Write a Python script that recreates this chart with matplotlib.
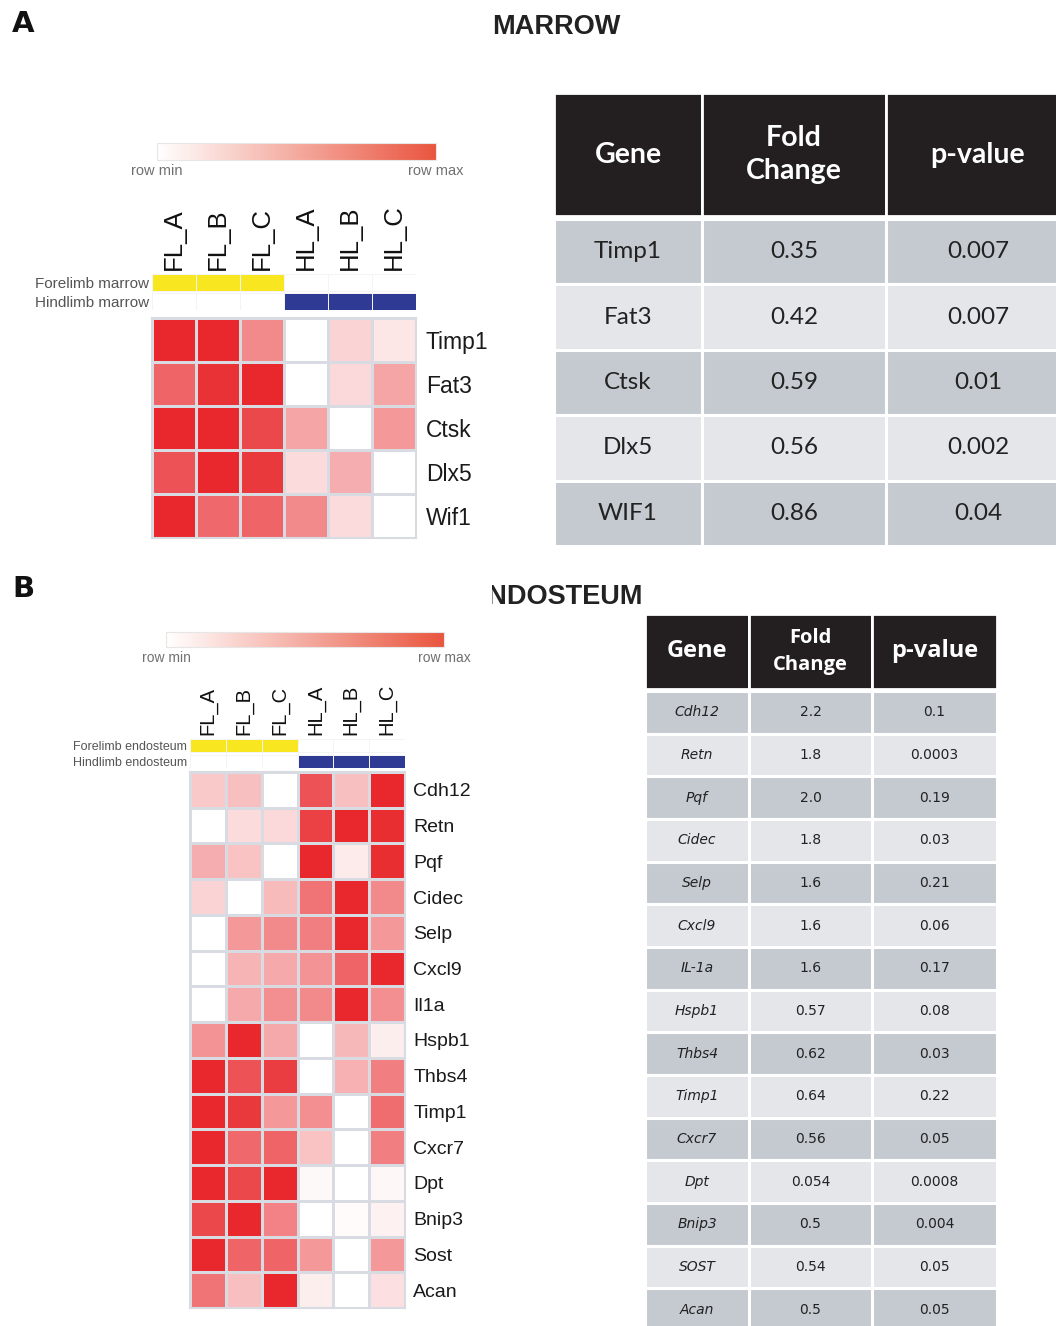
import numpy as np
import matplotlib
matplotlib.use("Agg")
import matplotlib.pyplot as plt
from matplotlib.colors import LinearSegmentedColormap, ListedColormap, Normalize
from matplotlib.cm import ScalarMappable
from matplotlib.patches import Rectangle

# ---- data ----
samples = ['FL_A', 'FL_B', 'FL_C', 'HL_A', 'HL_B', 'HL_C']
groups = ['FL', 'FL', 'FL', 'HL', 'HL', 'HL']

marrow_genes = ['Timp1', 'Fat3', 'Ctsk', 'Dlx5', 'Wif1']
marrow_vals = [
    [1.00, 1.00, 0.55, 0.00, 0.20, 0.12],
    [0.72, 0.95, 1.00, 0.00, 0.18, 0.42],
    [1.00, 1.00, 0.85, 0.42, 0.00, 0.48],
    [0.80, 1.00, 0.92, 0.17, 0.38, 0.00],
    [1.00, 0.70, 0.72, 0.55, 0.17, 0.00],
]
marrow_tab_genes = ['Timp1', 'Fat3', 'Ctsk', 'Dlx5', 'WIF1']
marrow_fold = ['0.35', '0.42', '0.59', '0.56', '0.86']
marrow_p = ['0.007', '0.007', '0.01', '0.002', '0.04']

endo_genes = ['Cdh12', 'Retn', 'Pqf', 'Cidec', 'Selp', 'Cxcl9', 'Il1a', 'Hspb1',
              'Thbs4', 'Timp1', 'Cxcr7', 'Dpt', 'Bnip3', 'Sost', 'Acan']
endo_vals = [
    [0.25, 0.30, 0.00, 0.80, 0.30, 1.00],
    [0.00, 0.17, 0.18, 0.88, 1.00, 0.97],
    [0.38, 0.28, 0.00, 1.00, 0.10, 0.97],
    [0.20, 0.00, 0.32, 0.65, 1.00, 0.55],
    [0.00, 0.48, 0.55, 0.60, 1.00, 0.48],
    [0.00, 0.35, 0.40, 0.50, 0.72, 1.00],
    [0.00, 0.40, 0.52, 0.55, 1.00, 0.52],
    [0.50, 1.00, 0.40, 0.00, 0.33, 0.08],
    [1.00, 0.80, 0.90, 0.00, 0.36, 0.60],
    [1.00, 0.92, 0.48, 0.52, 0.00, 0.68],
    [1.00, 0.70, 0.72, 0.28, 0.00, 0.60],
    [1.00, 0.85, 1.00, 0.03, 0.00, 0.04],
    [0.85, 1.00, 0.58, 0.00, 0.02, 0.07],
    [1.00, 0.72, 0.72, 0.48, 0.00, 0.48],
    [0.65, 0.30, 1.00, 0.08, 0.00, 0.15],
]
endo_tab_genes = ['Cdh12', 'Retn', 'Pqf', 'Cidec', 'Selp', 'Cxcl9', 'IL-1a', 'Hspb1',
                  'Thbs4', 'Timp1', 'Cxcr7', 'Dpt', 'Bnip3', 'SOST', 'Acan']
endo_fold = ['2.2', '1.8', '2.0', '1.8', '1.6', '1.6', '1.6', '0.57', '0.62', '0.64',
             '0.56', '0.054', '0.5', '0.54', '0.5']
endo_p = ['0.1', '0.0003', '0.19', '0.03', '0.21', '0.06', '0.17', '0.08', '0.03',
          '0.22', '0.05', '0.0008', '0.004', '0.05', '0.05']

# ---- style ----
W, H = 1056, 1326
RED = '#E8282C'
YELLOW = '#F7E620'
BLUE = '#2F3A94'
GRID = '#D8DCE2'
HEAD = '#231F20'
DARK_ROW = '#C5CAD1'
LIGHT_ROW = '#E4E6EA'
heat_cmap = LinearSegmentedColormap.from_list('wr', ['white', RED])
bar_cmap = LinearSegmentedColormap.from_list('wr2', ['white', '#E9553F'])
ann_cmap = ListedColormap(['white', YELLOW, BLUE])
HM_FONT = 'Liberation Sans'

fig = plt.figure(figsize=(W / 100, H / 100), dpi=100)


def px_axes(x0, y0, x1, y1):
    return fig.add_axes([x0 / W, 1 - y1 / H, (x1 - x0) / W, (y1 - y0) / H])


def draw_colorbar(box, fs):
    cax = px_axes(*box)
    cb = fig.colorbar(ScalarMappable(Normalize(0, 1), bar_cmap), cax=cax,
                      orientation='horizontal')
    cb.set_ticks([])
    cb.outline.set_edgecolor('#E6E6E6')
    cax.text(0, -0.25, 'row min', transform=cax.transAxes, ha='center', va='top',
             fontsize=fs, color='#707070', family=HM_FONT)
    cax.text(1, -0.25, 'row max', transform=cax.transAxes, ha='center', va='top',
             fontsize=fs, color='#707070', family=HM_FONT)


def draw_annotation(box, labels, fs_lab, fs_col):
    ax = px_axes(*box)
    # yellow row, thin white gap, blue row
    ann = np.array([[1 if g == 'FL' else 0 for g in groups],
                    [0] * 6,
                    [2 if g == 'HL' else 0 for g in groups]])
    ax.pcolormesh(np.arange(7), [0, 1, 1.18, 2.18], ann, cmap=ann_cmap, vmin=0, vmax=2,
                  edgecolors='#F4F4F4', linewidth=0.4)
    ax.set_xlim(0, 6)
    ax.set_ylim(2.18, 0)
    for s in ax.spines.values():
        s.set_visible(False)
    ax.set_yticks([0.5, 1.68], labels, fontsize=fs_lab, color='#555555', family=HM_FONT)
    ax.xaxis.tick_top()
    ax.set_xticks(np.arange(6) + 0.5, samples, rotation=90, fontsize=fs_col,
                  color='#111111', family=HM_FONT)
    ax.tick_params(length=0, axis='y', pad=2)
    ax.tick_params(length=0, axis='x', pad=3)


def draw_heatmap(box, vals, genes, fs, pad):
    ax = px_axes(*box)
    ax.pcolormesh(np.array(vals), cmap=heat_cmap, vmin=0, vmax=1,
                  edgecolors=GRID, linewidth=1.8)
    ax.set_xlim(0, 6)
    ax.set_ylim(len(genes), 0)
    ax.set_xticks([])
    ax.yaxis.tick_right()
    ax.set_yticks(np.arange(len(genes)) + 0.5, genes, fontsize=fs,
                  color='#1a1a1a', family=HM_FONT)
    ax.tick_params(length=0, pad=pad)
    for s in ax.spines.values():
        s.set_edgecolor(GRID)
        s.set_linewidth(1.5)


def draw_table(head_box, body_box, headers, rows, col_w, head_fam, body_fam, head_fs,
               fold_fs, body_fs, italic_gene, lsp):
    hax = px_axes(*head_box)
    hax.axis('off')
    ht = hax.table(cellText=[headers], cellLoc='center', colWidths=col_w,
                   bbox=[0, 0, 1, 1])
    ht.auto_set_font_size(False)
    for (r, c), cell in ht.get_celld().items():
        cell.set_facecolor(HEAD)
        cell.set_edgecolor('white')
        cell.set_linewidth(2)
        t = cell.get_text()
        t.set_color('white')
        t.set_fontweight('bold')
        t.set_family(head_fam)
        t.set_fontsize(fold_fs if c == 1 else head_fs)
        t.set_linespacing(lsp)
    bax = px_axes(*body_box)
    bax.axis('off')
    bt = bax.table(cellText=rows, cellLoc='center', colWidths=col_w,
                   bbox=[0, 0, 1, 1])
    bt.auto_set_font_size(False)
    for (r, c), cell in bt.get_celld().items():
        cell.set_facecolor(DARK_ROW if r % 2 == 0 else LIGHT_ROW)
        cell.set_edgecolor('white')
        cell.set_linewidth(2.2)
        t = cell.get_text()
        t.set_color('#222222')
        t.set_family(body_fam)
        t.set_fontsize(body_fs)
        if italic_gene and c == 0:
            t.set_fontstyle('italic')


# ---- panel A ----
fig.text(12 / W, 1 - 10 / H, 'A', fontsize=21, fontweight='bold', ha='left', va='top',
         family='DejaVu Sans', color='#111111')
fig.text(556 / W, 1 - 27 / H, 'MARROW', fontsize=19.5, fontweight='bold', ha='center',
         va='center', family='Liberation Sans', color='#222222')
draw_colorbar((157, 143, 436, 160), 10.5)
draw_annotation((152, 274, 416, 310), ['Forelimb marrow', 'Hindlimb marrow'], 11, 18.5)
draw_heatmap((152, 318, 416, 538), marrow_vals, marrow_genes, 16.5, 7)
rows_a = [[g, f, p] for g, f, p in zip(marrow_tab_genes, marrow_fold, marrow_p)]
draw_table((554, 93, 1070, 216), (554, 219, 1070, 546), ['Gene', 'Fold\nChange', 'p-value'],
           rows_a, [148, 184, 184], 'Lato', 'Lato', 20.5, 20.5, 17.5, False, 1.3)

# ---- panel B ----
fig.text(12 / W, 1 - 575 / H, 'B', fontsize=21, fontweight='bold', ha='left', va='top',
         family='DejaVu Sans', color='#111111')
fig.text(556 / W, 1 - 597 / H, 'ENDOSTEUM', fontsize=19.5, fontweight='bold', ha='center',
         va='center', family='Liberation Sans', color='#222222')
fig.patches.append(Rectangle((420 / W, 1 - 618 / H), 72 / W, 42 / H, transform=fig.transFigure,
                             facecolor='white', edgecolor='none', zorder=10))
draw_colorbar((166, 632, 444, 647), 10)
draw_annotation((190, 739, 405, 768), ['Forelimb endosteum', 'Hindlimb endosteum'], 9, 14.5)
draw_heatmap((190, 772, 405, 1308), endo_vals, endo_genes, 14, 6)
rows_b = [[g, f, p] for g, f, p in zip(endo_tab_genes, endo_fold, endo_p)]
draw_table((645, 614, 997, 689), (645, 691, 997, 1331), ['Gene', 'Fold\nChange', 'p-value'],
           rows_b, [104, 123, 125], 'Open Sans', 'DejaVu Sans', 17, 14.5, 10, True, 1.45)

fig.savefig('out.png', dpi=100)
